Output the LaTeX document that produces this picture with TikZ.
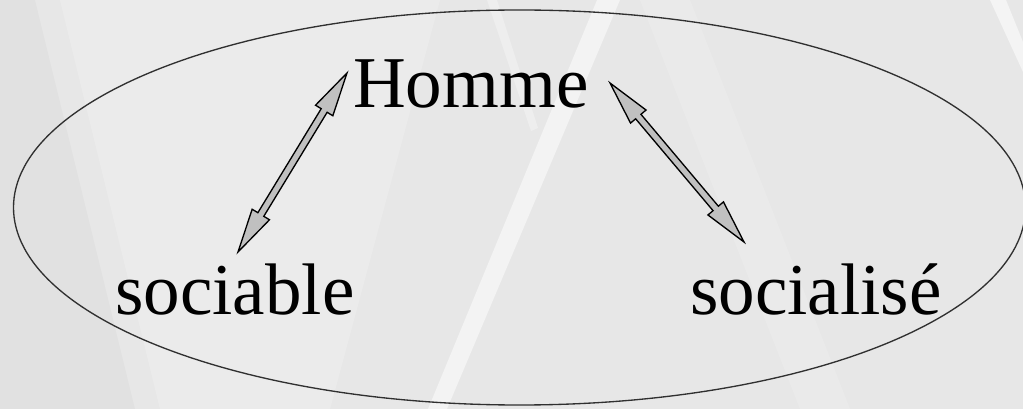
\documentclass[tikz,border=0pt]{standalone}
\usepackage{fontspec}
\setmainfont{Liberation Serif}
\newfontfamily\wordfont{Liberation Serif}
\usetikzlibrary{shapes.arrows,calc}
\definecolor{bggray}{HTML}{E7E7E7}
\definecolor{arrowgray}{HTML}{C0C0C0}
\definecolor{linegray}{HTML}{303030}
\tikzset{
  word/.style={anchor=base west, inner sep=0pt, font=\wordfont\fontsize{54.75pt}{60pt}\selectfont},
  fatarrow/.style={double arrow, draw=black, line width=1pt, fill=arrowgray,
    inner xsep=0pt, inner ysep=2.1pt, minimum width=1pt,
    double arrow head extend=5pt, double arrow tip angle=26},
  stripe/.style={fill=white, draw=none}
}
\begin{document}
\begin{tikzpicture}[x=0.75pt,y=-0.75pt]
\useasboundingbox (0,0) rectangle (1023,409);
\clip (0,0) rectangle (1023,409);
\fill[bggray] (0,0) rectangle (1023,409);
% background stripes
\fill[white, opacity=0.2] (60,0) -- (440,0) -- (330,409) -- (160,409) -- cycle;
\fill[black, opacity=0.025] (0,0) -- (35,0) -- (135,409) -- (0,409) -- cycle;
\fill[stripe, opacity=0.5] (597,0) -- (620,0) -- (447,409) -- (428,409) -- cycle;
\fill[stripe, opacity=0.3] (487,0) -- (497,0) -- (538,128) -- (531,131) -- cycle;
\fill[stripe, opacity=0.55] (990,0) -- (1006,0) -- (1023,42) -- (1023,72) -- cycle;
\fill[stripe, opacity=0.15] (640,0) -- (690,0) -- (850,409) -- (800,409) -- cycle;
% ellipse
\draw[linegray, line width=1pt] (519.5,207.5) ellipse [x radius=506, y radius=197.5];
% words
\node[word] (homme) at (353,108) {Homme};
\node[word] (sociable) at (115,315) {sociable};
\node[word] (socialise) at (690,315) {socialisé};
% arrow end points
\coordinate (la1) at (238,252);
\coordinate (la2) at (347,73);
\coordinate (ra1) at (610,83);
\coordinate (ra2) at (744,242);
\path let \p1=($(la2)-(la1)$), \n1={atan2(\y1,\x1)}, \n2={veclen(\x1,\y1)} in
  node[fatarrow, rotate=\n1, minimum height=\n2] (arrL) at ($(la1)!0.5!(la2)$) {};
\path let \p1=($(ra2)-(ra1)$), \n1={atan2(\y1,\x1)}, \n2={veclen(\x1,\y1)} in
  node[fatarrow, rotate=\n1, minimum height=\n2] (arrR) at ($(ra1)!0.5!(ra2)$) {};
\end{tikzpicture}
\end{document}
